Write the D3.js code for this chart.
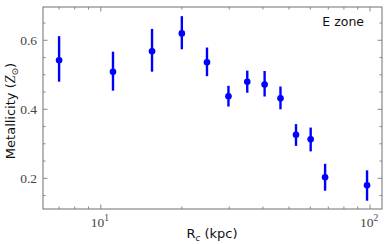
<!DOCTYPE html>
<html><head><meta charset="utf-8">
<script src="https://cdn.jsdelivr.net/npm/d3@7"></script>
<style>body{margin:0;background:#fff}svg{display:block}</style>
</head><body>
<script>
const radius = [7.0, 11.1, 15.5, 20.0, 24.8, 29.8, 35.0, 40.6, 46.5, 53.1, 60.2, 68.1, 97.5];
const metal  = [0.542, 0.509, 0.568, 0.620, 0.536, 0.438, 0.480, 0.472, 0.432, 0.326, 0.313, 0.203, 0.180];
const errUp  = [0.070, 0.058, 0.065, 0.050, 0.043, 0.030, 0.032, 0.039, 0.034, 0.031, 0.034, 0.039, 0.043];
const errLo  = [0.062, 0.055, 0.059, 0.046, 0.040, 0.030, 0.032, 0.035, 0.032, 0.032, 0.035, 0.039, 0.045];
const yTicks = [0.2, 0.4, 0.6];
const xTicks = [10, 100];
const zoneLabel = "E zone";

const W = 390, H = 244;
const m = {l: 43, r: 8, t: 7, b: 35};
const svg = d3.select("body").append("svg").attr("width", W).attr("height", H);
const x = d3.scaleLog().domain([6.1, 110.8]).range([m.l, W - m.r]);
const y = d3.scaleLinear().domain([0.111, 0.6965]).range([H - m.b, m.t]);
const axisCol = "#888";
const textCol = "#444";

const xMinor = [];
for (let d of [1, 10, 100]) for (let k = 2; k <= 9; k++) { const v = d * k; if (v > 6.1 && v < 110.8) xMinor.push(v); }
const yMinor = d3.range(0.15, 0.70, 0.05).map(v => +v.toFixed(2)).filter(v => !yTicks.some(t => Math.abs(t - v) < 1e-6));

const g = svg.append("g");
const x0 = m.l, x1 = W - m.r, y0 = H - m.b, y1 = m.t;
function tick(x1_, y1_, x2_, y2_) {
  g.append("line").attr("x1", x1_).attr("y1", y1_).attr("x2", x2_).attr("y2", y2_)
    .attr("stroke", axisCol).attr("stroke-width", 1);
}
xTicks.forEach(v => { tick(x(v), y0, x(v), y0 - 4.5); tick(x(v), y1, x(v), y1 + 4.5); });
xMinor.forEach(v => { tick(x(v), y0, x(v), y0 - 2.5); tick(x(v), y1, x(v), y1 + 2.5); });
yTicks.forEach(v => { tick(x0, y(v), x0 + 4.5, y(v)); tick(x1, y(v), x1 - 4.5, y(v)); });
yMinor.forEach(v => { tick(x0, y(v), x0 + 2.5, y(v)); tick(x1, y(v), x1 - 2.5, y(v)); });

g.append("rect").attr("x", x0).attr("y", y1).attr("width", x1 - x0).attr("height", y0 - y1)
  .attr("fill", "none").attr("stroke", axisCol).attr("stroke-width", 1.2);

yTicks.forEach(v => {
  svg.append("text").attr("x", x0 - 6).attr("y", y(v) + 4.5).attr("text-anchor", "end")
    .attr("font-family", "Liberation Serif, serif").attr("font-size", 13.5).attr("fill", textCol)
    .text(d3.format(".1f")(v));
});
xTicks.forEach(v => {
  const t = svg.append("text").attr("x", x(v) - 1).attr("y", y0 + 18).attr("text-anchor", "middle")
    .attr("font-family", "Liberation Serif, serif").attr("font-size", 13.5).attr("fill", textCol);
  t.append("tspan").text("10");
  t.append("tspan").attr("dy", -6).attr("font-size", 9.5).text(Math.round(Math.log10(v)));
});

const xl = svg.append("text").attr("x", 212).attr("y", 238).attr("text-anchor", "middle")
  .attr("font-family", "DejaVu Sans, sans-serif").attr("font-size", 13).attr("fill", "#111");
xl.append("tspan").text("R");
xl.append("tspan").attr("dy", 3).attr("font-size", 8.5).attr("font-style", "italic").text("c");
xl.append("tspan").attr("dy", -3).text(" (kpc)");

const yl = svg.append("text").attr("transform", `translate(15,${(y0 + y1) / 2 + 3}) rotate(-90)`)
  .attr("text-anchor", "middle").attr("font-family", "DejaVu Sans, sans-serif")
  .attr("font-size", 13).attr("fill", "#111");
yl.append("tspan").text("Metallicity (");
yl.append("tspan").attr("font-family", "Liberation Serif, serif").attr("font-style", "italic").attr("font-size", 14).text("Z");
yl.append("tspan").attr("dy", 3).attr("font-size", 9).text("⊙");
yl.append("tspan").attr("dy", -3).text(")");

svg.append("text").attr("x", 364).attr("y", 26).attr("text-anchor", "end")
  .attr("font-family", "DejaVu Sans, sans-serif").attr("font-size", 12.5).attr("fill", "#111")
  .text(zoneLabel);

const data = radius.map((r, i) => ({r, v: metal[i], lo: errLo[i], hi: errUp[i]}));
const blue = "#0000ff";
svg.append("g").selectAll("line").data(data).join("line")
  .attr("x1", d => x(d.r)).attr("x2", d => x(d.r))
  .attr("y1", d => y(d.v - d.lo)).attr("y2", d => y(d.v + d.hi))
  .attr("stroke", blue).attr("stroke-width", 2.4);
svg.append("g").selectAll("circle").data(data).join("circle")
  .attr("cx", d => x(d.r)).attr("cy", d => y(d.v)).attr("r", 3.3).attr("fill", blue);
</script>
</body></html>
